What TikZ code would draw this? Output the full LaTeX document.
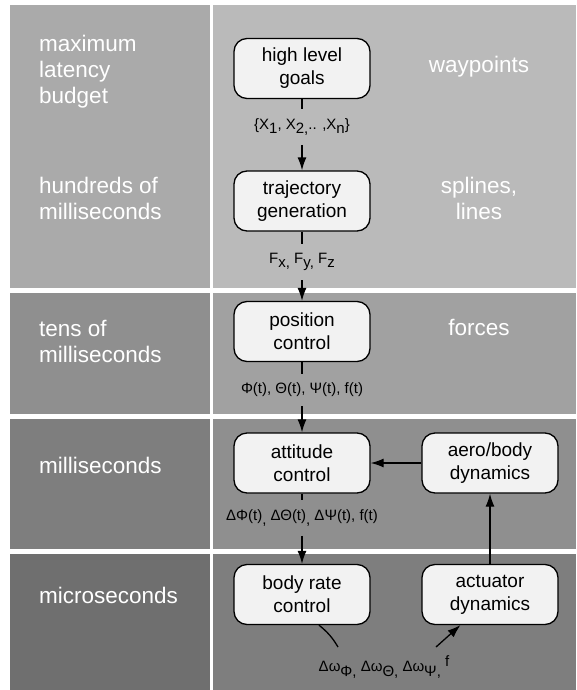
\documentclass[tikz,border=0pt]{standalone}
\usepackage{fontspec}
\setmainfont{Liberation Sans}
\usetikzlibrary{arrows.meta}
\definecolor{rowAleft}{gray}{0.665}
\definecolor{rowAright}{gray}{0.730}
\definecolor{rowBleft}{gray}{0.560}
\definecolor{rowBright}{gray}{0.630}
\definecolor{rowCleft}{gray}{0.495}
\definecolor{rowCright}{gray}{0.560}
\definecolor{rowDleft}{gray}{0.435}
\definecolor{rowDright}{gray}{0.495}
\definecolor{boxfill}{gray}{0.95}
\newcommand{\lo}[1]{\raisebox{-0.55ex}{#1}}
\newcommand{\hi}[1]{\raisebox{0.6ex}{#1}}
\begin{document}
\begin{tikzpicture}[x=1pt,y=-1pt,
  block/.style={draw,line width=1.3pt,fill=boxfill,rounded corners=13pt,
    minimum width=136pt,minimum height=60pt,align=center,
    font=\fontsize{19}{23}\selectfont},
  side/.style={text=white,font=\fontsize{22.5}{26}\selectfont,align=left,
    anchor=west,inner sep=0pt},
  note/.style={text=white,font=\fontsize{22.5}{26}\selectfont,align=center,
    inner sep=0pt},
  sig/.style={font=\fontsize{15}{18}\selectfont,inner sep=9pt},
  wire/.style={line width=1.3pt},
  flow/.style={wire,-{Latex[length=13pt,width=9pt]}}]
\useasboundingbox (0,0) rectangle (576,690);
\fill[white] (0,0) rectangle (576,690);
\fill[rowAleft] (10,5) rectangle (210,288);
\fill[rowAright] (213,5) rectangle (576,288);
\fill[rowBleft] (10,293) rectangle (210,414);
\fill[rowBright] (213,293) rectangle (576,414);
\fill[rowCleft] (10,419) rectangle (210,549);
\fill[rowCright] (213,419) rectangle (576,549);
\fill[rowDleft] (10,554) rectangle (210,690);
\fill[rowDright] (213,554) rectangle (576,690);

\node[side] (tbudget) at (39,72) {maximum\\latency\\budget};
\node[side] (thundreds) at (39,198) {hundreds of\\milliseconds};
\node[side] (ttens) at (39,341) {tens of\\milliseconds};
\node[side] (tmilli) at (39,465) {milliseconds};
\node[side] (tmicro) at (39,595) {microseconds};

\node[note] (nwaypts) at (479,67) {waypoints};
\node[note] (nsplines) at (479,198) {splines,\\lines};
\node[note] (nforces) at (479,327) {forces};

\node[block] (goals) at (302,68.5) {high level\\goals};
\node[block] (traj) at (302,201) {trajectory\\generation};
\node[block] (pos) at (302,331.5) {position\\control};
\node[block] (att) at (302,463) {attitude\\control};
\node[block] (rate) at (302,594.5) {body rate\\control};
\node[block] (aero) at (490,463) {aero/body\\dynamics};
\node[block] (act) at (490,594.5) {actuator\\dynamics};

\node[sig] (lpts) at (302,127) {\{X\lo{1}, X\lo{2,}.. ,X\lo{n}\}};
\node[sig] (lforce) at (302,262) {F\lo{x,} F\lo{y,} F\lo{z}};
\node[sig] (langle) at (302,390) {Φ(t), Θ(t), Ψ(t), f(t)};
\node[sig] (ldelta) at (302,518) {ΔΦ(t)\lo{,} ΔΘ(t)\lo{,} ΔΨ(t), f(t)};
\node[sig] (lrate) at (384,667) {Δω\lo{Φ,} Δω\lo{Θ,} Δω\lo{Ψ,} \hi{f}};
\coordinate (rin) at (338,647);
\coordinate (rout) at (436,647);

\draw[wire] (goals) -- (lpts);
\draw[flow] (lpts) -- (traj);
\draw[wire] (traj) -- (lforce);
\draw[flow] (lforce) -- (pos);
\draw[wire] (pos) -- (langle);
\draw[flow] (langle) -- (att);
\draw[wire] (att) -- (ldelta);
\draw[flow] (ldelta) -- (rate);
\draw[wire] (rate.-61) to[bend left=10] (rin);
\draw[flow] (rout) -- (act.-134);
\draw[flow] (act) -- (aero);
\draw[flow] (aero) -- (att);
\end{tikzpicture}
\end{document}
